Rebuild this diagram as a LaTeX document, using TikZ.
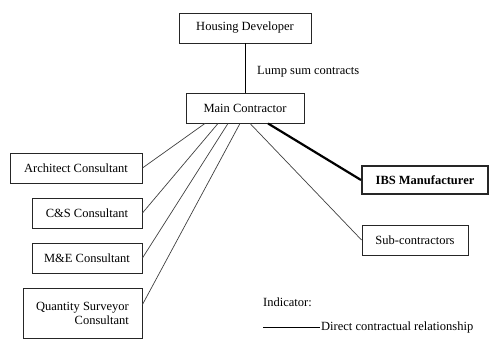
\documentclass[tikz,border=0pt]{standalone}
\usepackage{fontspec}
\setmainfont{Liberation Serif}
\usetikzlibrary{positioning}

\begin{document}
\begin{tikzpicture}
  [x=1pt,y=-1pt,every node/.style={font=\fontsize{12.5}{14}\selectfont},
   party/.style={draw=black!85,line width=0.9pt,minimum height=30pt,inner sep=2pt},
   link/.style={black!75,line width=0.7pt}]
  \useasboundingbox (0,0) rectangle (490,339);
  \node[party,minimum width=132pt] (hd) at (245,28) {Housing Developer};
  \node[party,minimum width=118pt] (mc) at (245,108) {Main Contractor};
  \node[party,minimum width=132pt] (arch) at (76,168) {Architect Consultant};
  \node[party,minimum width=110pt] (cs) at (87,213) {C\&S Consultant};
  \node[party,minimum width=110pt] (me) at (87,258) {M\&E Consultant};
  \node[party,minimum width=119pt,minimum height=50pt,align=right] (qs) at (82.5,313)
    {Quantity Surveyor\\Consultant};
  \node[party,minimum width=126pt,minimum height=28pt,line width=2pt,font=\fontsize{12.5}{14}\selectfont\bfseries] (ibs) at (425,180) {IBS Manufacturer};
  \node[party,minimum width=106pt] (sub) at (415,240) {Sub-contractors};

  \node[anchor=west,inner sep=0pt] (lump) at (257,72) {Lump sum contracts};
  \node[anchor=west,inner sep=0pt] (ind) at (263,302) {Indicator:};
  \coordinate (key) at (263,327);
  \node[anchor=west,inner sep=1pt] (keytext) at (320,327) {Direct contractual relationship};

  \draw[line width=1pt] (hd) -- (mc);
  \foreach \dx/\to in {-40/arch.east,-27/cs.east,-17/me.east,-5/qs.8,5/sub.west}
    \draw[link] ([xshift=\dx pt]mc.south) -- (\to);
  \draw[line width=2.2pt] ([xshift=23pt]mc.south) -- (ibs.west);
  \draw[line width=1pt] (key) -- (keytext.west);
\end{tikzpicture}
\end{document}
